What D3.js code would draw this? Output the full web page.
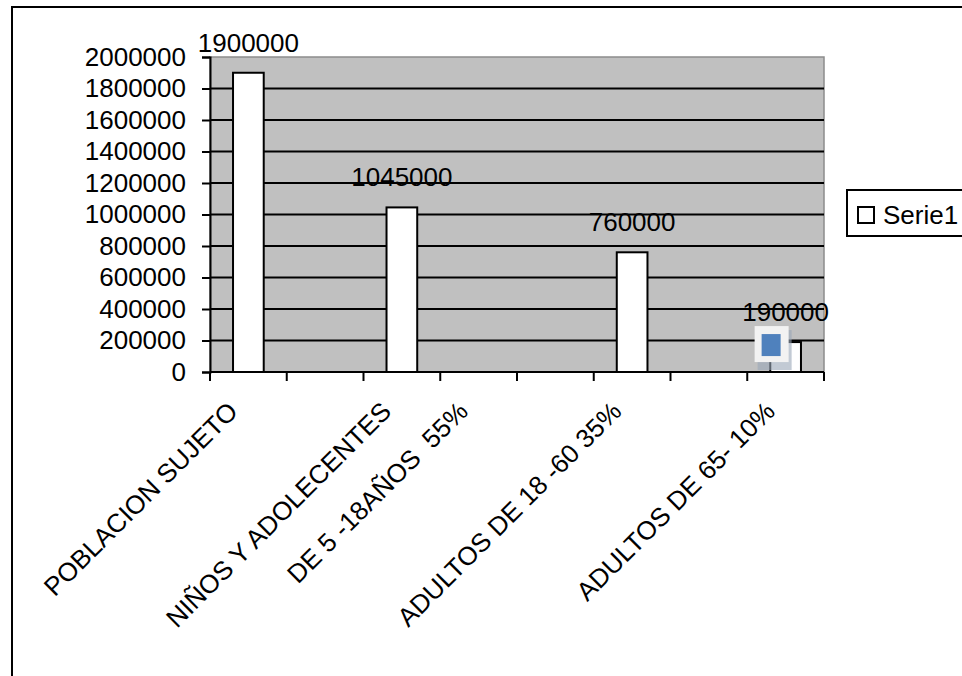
<!DOCTYPE html>
<meta charset="utf-8">
<style>
body { margin: 0; background: #fff; }
svg text { font-family: "Liberation Sans", Arial, sans-serif; fill: #000; }
.lbl { font-size: 26px; white-space: pre; }
</style>
<body>
<script src="https://d3js.org/d3.v7.min.js"></script>
<script>

var categories = ["POBLACION SUJETO", "", "NIÑOS Y ADOLECENTES", "DE 5 -18AÑOS  55%", "", "ADULTOS DE 18 -60 35%", "", "ADULTOS DE 65- 10%"];
var values = [1900000, null, 1045000, null, null, 760000, null, 190000];
var yTicks = [0, 200000, 400000, 600000, 800000, 1000000, 1200000, 1400000, 1600000, 1800000, 2000000];
var seriesName = "Serie1";

var width = 962, height = 676;
var plot = {left: 210, right: 824, top: 57, bottom: 372};

var svg = d3.select("body").append("svg")
    .attr("width", width)
    .attr("height", height);

// outer chart border (runs off the right and bottom)
svg.append("rect")
    .attr("x", 12).attr("y", 7)
    .attr("width", 980).attr("height", 700)
    .attr("fill", "#fff")
    .attr("stroke", "#000")
    .attr("stroke-width", 2);

var x = d3.scaleBand()
    .domain(d3.range(categories.length))
    .range([plot.left, plot.right]);

var y = d3.scaleLinear()
    .domain([0, 2000000])
    .range([plot.bottom, plot.top]);

// plot area
svg.append("rect")
    .attr("x", plot.left).attr("y", plot.top)
    .attr("width", plot.right - plot.left)
    .attr("height", plot.bottom - plot.top)
    .attr("fill", "#c0c0c0")
    .attr("stroke", "#8c8c8c")
    .attr("stroke-width", 1.5);

// gridlines
svg.append("g")
  .selectAll("line")
    .data(yTicks.filter(function(d) { return d > 0 && d < 2000000; }))
  .enter().append("line")
    .attr("x1", plot.left).attr("x2", plot.right)
    .attr("y1", function(d) { return y(d); })
    .attr("y2", function(d) { return y(d); })
    .attr("stroke", "#000")
    .attr("stroke-width", 2);

// y axis
var yAxis = d3.axisLeft(y)
    .tickValues(yTicks)
    .tickSize(8)
    .tickPadding(16)
    .tickFormat(d3.format("d"));

var gy = svg.append("g")
    .attr("transform", "translate(" + plot.left + ",0)")
    .call(yAxis);
gy.select(".domain").attr("stroke", "#000").attr("stroke-width", 2);
gy.selectAll(".tick line").attr("stroke", "#000").attr("stroke-width", 2);
gy.selectAll(".tick text")
    .attr("class", "lbl")
    .attr("font-size", null)
    .attr("font-family", null);

// x axis: ticks on band edges
var edges = d3.range(categories.length + 1).map(function(i) {
  return plot.left + i * x.step();
});
var gx = svg.append("g");
gx.append("line")
    .attr("x1", plot.left).attr("x2", plot.right)
    .attr("y1", plot.bottom).attr("y2", plot.bottom)
    .attr("stroke", "#000").attr("stroke-width", 2);
gx.selectAll(".xt")
    .data(edges)
  .enter().append("line")
    .attr("class", "xt")
    .attr("x1", function(d) { return d; })
    .attr("x2", function(d) { return d; })
    .attr("y1", plot.bottom).attr("y2", plot.bottom + 9)
    .attr("stroke", "#000").attr("stroke-width", 2);

gx.selectAll(".xl")
    .data(categories)
  .enter().append("text")
    .attr("class", "lbl")
    .attr("text-anchor", "end")
    .attr("transform", function(d, i) {
      var cx = x(i) + x.bandwidth() / 2 - 9;
      return "translate(" + cx + "," + 413 + ") rotate(-45)";
    })
    .text(function(d) { return d; });

// bars
var barW = x.bandwidth() * 0.4;
var bars = values.map(function(v, i) { return {i: i, v: v}; })
    .filter(function(d) { return d.v != null; });

svg.append("g")
  .selectAll("rect")
    .data(bars)
  .enter().append("rect")
    .attr("x", function(d) { return x(d.i) + (x.bandwidth() - barW) / 2; })
    .attr("y", function(d) { return y(d.v); })
    .attr("width", barW)
    .attr("height", function(d) { return y(0) - y(d.v); })
    .attr("fill", "#fff")
    .attr("stroke", "#000")
    .attr("stroke-width", 2);

// data labels
svg.append("g")
  .selectAll("text")
    .data(bars)
  .enter().append("text")
    .attr("class", "lbl")
    .attr("text-anchor", "middle")
    .attr("x", function(d) { return x(d.i) + x.bandwidth() / 2; })
    .attr("y", function(d) { return y(d.v) - 21; })
    .text(function(d) { return d.v; });

// selection handle left over near the last bar
var last = bars[bars.length - 1];
var hx = x(last.i) + x.bandwidth() / 2 - 31, hy = y(last.v) - 16;
svg.append("rect")
    .attr("x", hx + 3).attr("y", hy + 4)
    .attr("width", 34).attr("height", 40)
    .attr("fill", "#9aa6b8").attr("opacity", 0.6);
svg.append("rect")
    .attr("x", hx).attr("y", hy)
    .attr("width", 34).attr("height", 36)
    .attr("fill", "#f2f2f2");
svg.append("rect")
    .attr("x", hx + 7).attr("y", hy + 8)
    .attr("width", 19).attr("height", 22)
    .attr("fill", "#4f81bd");

// legend
var lg = svg.append("g").attr("transform", "translate(847,190)");
lg.append("rect")
    .attr("width", 140).attr("height", 46)
    .attr("fill", "#fff")
    .attr("stroke", "#000")
    .attr("stroke-width", 2);
lg.append("rect")
    .attr("x", 11).attr("y", 17)
    .attr("width", 16).attr("height", 16)
    .attr("fill", "#fff")
    .attr("stroke", "#000")
    .attr("stroke-width", 2);
lg.append("text")
    .attr("class", "lbl")
    .attr("x", 36).attr("y", 34)
    .text(seriesName);

</script>
